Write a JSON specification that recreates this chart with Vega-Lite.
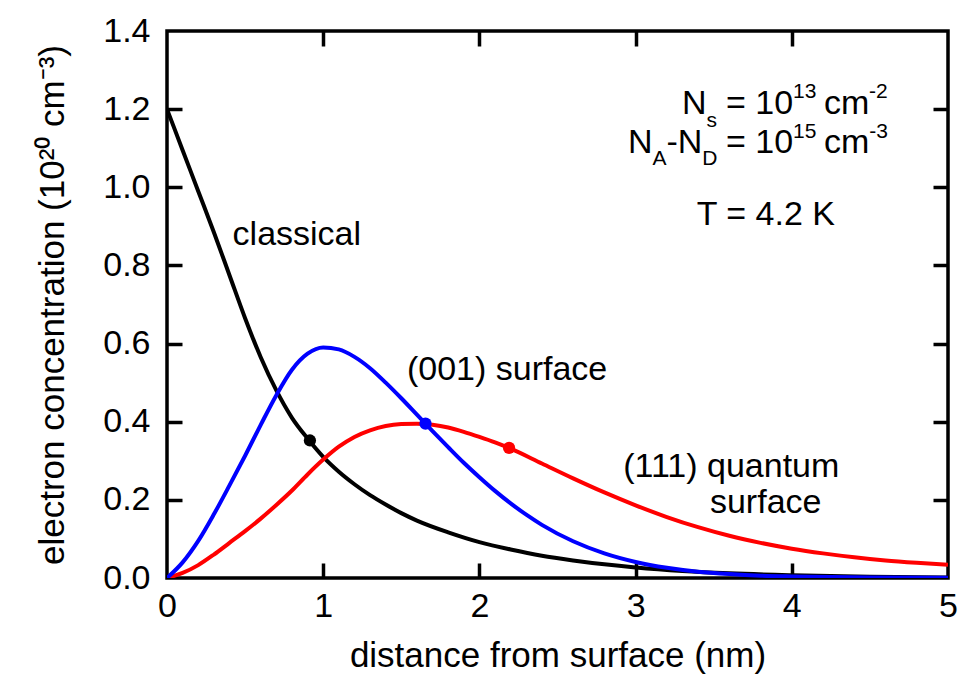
{
  "$schema": "https://vega.github.io/schema/vega-lite/v6.json",
  "width": 781,
  "height": 547,
  "autosize": {"type": "none"},
  "padding": {"left": 167, "top": 31, "right": 24, "bottom": 100},
  "background": "white",
  "config": {
    "font": "Liberation Sans",
    "view": {"stroke": "black", "strokeWidth": 3.5},
    "axis": {
      "grid": false,
      "domain": false,
      "tickColor": "black",
      "tickWidth": 3.5,
      "tickSize": 15,
      "labelColor": "black",
      "labelFont": "Liberation Sans",
      "labelFontSize": 34,
      "labelFlush": false,
      "labelOverlap": false,
      "titleColor": "black",
      "titleFont": "Liberation Sans",
      "titleFontSize": 35,
      "titleFontWeight": "normal"
    }
  },
  "datasets": {
    "curves": [
      {"series": "classical", "x": 0, "y": 1.2},
      {"series": "classical", "x": 0.1, "y": 1.095},
      {"series": "classical", "x": 0.2, "y": 0.99},
      {"series": "classical", "x": 0.3, "y": 0.885},
      {"series": "classical", "x": 0.4, "y": 0.775},
      {"series": "classical", "x": 0.5, "y": 0.665},
      {"series": "classical", "x": 0.6, "y": 0.565},
      {"series": "classical", "x": 0.7, "y": 0.48},
      {"series": "classical", "x": 0.8, "y": 0.41},
      {"series": "classical", "x": 0.9, "y": 0.357},
      {"series": "classical", "x": 1.0, "y": 0.31},
      {"series": "classical", "x": 1.1, "y": 0.272},
      {"series": "classical", "x": 1.2, "y": 0.24},
      {"series": "classical", "x": 1.3, "y": 0.212},
      {"series": "classical", "x": 1.4, "y": 0.188},
      {"series": "classical", "x": 1.5, "y": 0.166},
      {"series": "classical", "x": 1.6, "y": 0.147},
      {"series": "classical", "x": 1.8, "y": 0.117},
      {"series": "classical", "x": 2.0, "y": 0.092},
      {"series": "classical", "x": 2.2, "y": 0.073},
      {"series": "classical", "x": 2.4, "y": 0.057},
      {"series": "classical", "x": 2.6, "y": 0.045},
      {"series": "classical", "x": 2.8, "y": 0.035},
      {"series": "classical", "x": 3.0, "y": 0.027},
      {"series": "classical", "x": 3.3, "y": 0.018},
      {"series": "classical", "x": 3.6, "y": 0.012},
      {"series": "classical", "x": 4.0, "y": 0.007},
      {"series": "classical", "x": 4.5, "y": 0.003},
      {"series": "classical", "x": 5.0, "y": 0.0015},
      {"series": "(111) surface", "x": 0, "y": 0},
      {"series": "(111) surface", "x": 0.1, "y": 0.013},
      {"series": "(111) surface", "x": 0.2, "y": 0.033},
      {"series": "(111) surface", "x": 0.3, "y": 0.06},
      {"series": "(111) surface", "x": 0.4, "y": 0.09},
      {"series": "(111) surface", "x": 0.5, "y": 0.12},
      {"series": "(111) surface", "x": 0.6, "y": 0.152},
      {"series": "(111) surface", "x": 0.7, "y": 0.187},
      {"series": "(111) surface", "x": 0.8, "y": 0.224},
      {"series": "(111) surface", "x": 0.9, "y": 0.265},
      {"series": "(111) surface", "x": 1.0, "y": 0.303},
      {"series": "(111) surface", "x": 1.1, "y": 0.336},
      {"series": "(111) surface", "x": 1.2, "y": 0.361},
      {"series": "(111) surface", "x": 1.3, "y": 0.378},
      {"series": "(111) surface", "x": 1.4, "y": 0.389},
      {"series": "(111) surface", "x": 1.5, "y": 0.394},
      {"series": "(111) surface", "x": 1.6, "y": 0.395},
      {"series": "(111) surface", "x": 1.7, "y": 0.392},
      {"series": "(111) surface", "x": 1.8, "y": 0.385},
      {"series": "(111) surface", "x": 1.9, "y": 0.374},
      {"series": "(111) surface", "x": 2.0, "y": 0.361},
      {"series": "(111) surface", "x": 2.1, "y": 0.347},
      {"series": "(111) surface", "x": 2.2, "y": 0.331},
      {"series": "(111) surface", "x": 2.4, "y": 0.293},
      {"series": "(111) surface", "x": 2.6, "y": 0.255},
      {"series": "(111) surface", "x": 2.8, "y": 0.219},
      {"series": "(111) surface", "x": 3.0, "y": 0.186},
      {"series": "(111) surface", "x": 3.2, "y": 0.156},
      {"series": "(111) surface", "x": 3.4, "y": 0.13},
      {"series": "(111) surface", "x": 3.6, "y": 0.108},
      {"series": "(111) surface", "x": 3.8, "y": 0.09},
      {"series": "(111) surface", "x": 4.0, "y": 0.075},
      {"series": "(111) surface", "x": 4.2, "y": 0.063},
      {"series": "(111) surface", "x": 4.4, "y": 0.053},
      {"series": "(111) surface", "x": 4.6, "y": 0.045},
      {"series": "(111) surface", "x": 4.8, "y": 0.039},
      {"series": "(111) surface", "x": 5.0, "y": 0.034},
      {"series": "(001) surface", "x": 0, "y": 0},
      {"series": "(001) surface", "x": 0.1, "y": 0.04},
      {"series": "(001) surface", "x": 0.2, "y": 0.095},
      {"series": "(001) surface", "x": 0.3, "y": 0.163},
      {"series": "(001) surface", "x": 0.4, "y": 0.237},
      {"series": "(001) surface", "x": 0.5, "y": 0.313},
      {"series": "(001) surface", "x": 0.6, "y": 0.392},
      {"series": "(001) surface", "x": 0.7, "y": 0.468},
      {"series": "(001) surface", "x": 0.8, "y": 0.533},
      {"series": "(001) surface", "x": 0.9, "y": 0.574},
      {"series": "(001) surface", "x": 1.0, "y": 0.59},
      {"series": "(001) surface", "x": 1.1, "y": 0.585},
      {"series": "(001) surface", "x": 1.2, "y": 0.566},
      {"series": "(001) surface", "x": 1.3, "y": 0.537},
      {"series": "(001) surface", "x": 1.4, "y": 0.5},
      {"series": "(001) surface", "x": 1.5, "y": 0.46},
      {"series": "(001) surface", "x": 1.6, "y": 0.418},
      {"series": "(001) surface", "x": 1.7, "y": 0.376},
      {"series": "(001) surface", "x": 1.8, "y": 0.335},
      {"series": "(001) surface", "x": 1.9, "y": 0.295},
      {"series": "(001) surface", "x": 2.0, "y": 0.258},
      {"series": "(001) surface", "x": 2.1, "y": 0.223},
      {"series": "(001) surface", "x": 2.2, "y": 0.191},
      {"series": "(001) surface", "x": 2.3, "y": 0.162},
      {"series": "(001) surface", "x": 2.4, "y": 0.136},
      {"series": "(001) surface", "x": 2.6, "y": 0.094},
      {"series": "(001) surface", "x": 2.8, "y": 0.063},
      {"series": "(001) surface", "x": 3.0, "y": 0.041},
      {"series": "(001) surface", "x": 3.2, "y": 0.026},
      {"series": "(001) surface", "x": 3.4, "y": 0.016},
      {"series": "(001) surface", "x": 3.6, "y": 0.01},
      {"series": "(001) surface", "x": 3.8, "y": 0.006},
      {"series": "(001) surface", "x": 4.0, "y": 0.004},
      {"series": "(001) surface", "x": 4.5, "y": 0.0015},
      {"series": "(001) surface", "x": 5.0, "y": 0.0005}
    ],
    "dots": [
      {"series": "classical", "x": 0.915, "y": 0.352},
      {"series": "(001) surface", "x": 1.655, "y": 0.395},
      {"series": "(111) surface", "x": 2.19, "y": 0.333}
    ],
    "labels": [
      {"x": 0.42, "y": 0.852, "text": "classical"},
      {"x": 1.536, "y": 0.507, "text": "(001) surface"},
      {"x": 2.921, "y": 0.258, "text": "(111) quantum"},
      {"x": 3.476, "y": 0.166, "text": "surface"},
      {"x": 3.297, "y": 1.187, "text": "N"},
      {"x": 3.579, "y": 1.187, "text": "= 10"},
      {"x": 4.206, "y": 1.187, "text": "cm"},
      {"x": 2.951, "y": 1.087, "text": "N"},
      {"x": 3.198, "y": 1.087, "text": "-N"},
      {"x": 3.579, "y": 1.087, "text": "= 10"},
      {"x": 4.206, "y": 1.087, "text": "cm"},
      {"x": 3.391, "y": 0.9035, "text": "T = 4.2 K"}
    ],
    "scripts": [
      {"x": 3.454, "y": 1.155, "text": "s"},
      {"x": 4.008, "y": 1.228, "text": "13"},
      {"x": 4.494, "y": 1.229, "text": "-2"},
      {"x": 3.108, "y": 1.057, "text": "A"},
      {"x": 3.427, "y": 1.057, "text": "D"},
      {"x": 4.008, "y": 1.127, "text": "15"},
      {"x": 4.496, "y": 1.127, "text": "-3"}
    ]
  },
  "layer": [
    {
      "data": {"name": "curves"},
      "mark": {"type": "line", "strokeWidth": 4, "interpolate": "monotone", "clip": true},
      "encoding": {
        "x": {
          "field": "x", "type": "quantitative",
          "scale": {"domain": [0, 5], "nice": false, "zero": false},
          "axis": {"orient": "bottom", "values": [0, 1, 2, 3, 4, 5], "format": "d", "ticks": false, "labelPadding": 11, "title": "distance from surface (nm)", "titlePadding": 15}
        },
        "y": {
          "field": "y", "type": "quantitative",
          "scale": {"domain": [0, 1.4], "nice": false, "zero": false},
          "axis": {"orient": "left", "values": [0, 0.2, 0.4, 0.6, 0.8, 1.0, 1.2, 1.4], "format": ".1f", "ticks": false, "labelPadding": 17, "title": "electron concentration (10²⁰ cm⁻³)", "titlePadding": 32}
        },
        "color": {
          "field": "series", "type": "nominal",
          "scale": {"domain": ["classical", "(111) surface", "(001) surface"], "range": ["#000000", "#ff0000", "#0000ff"]},
          "legend": null
        }
      }
    },
    {
      "data": {"name": "dots"},
      "mark": {"type": "point", "filled": true, "opacity": 1, "size": 150},
      "encoding": {
        "x": {
          "field": "x", "type": "quantitative",
          "axis": {"orient": "top", "offset": -15, "values": [1, 2, 3, 4], "labels": false, "title": null}
        },
        "y": {
          "field": "y", "type": "quantitative",
          "axis": {"orient": "right", "offset": -15, "values": [0.2, 0.4, 0.6, 0.8, 1.0, 1.2], "labels": false, "title": null}
        },
        "color": {"field": "series", "type": "nominal", "legend": null}
      }
    },
    {
      "data": {"name": "labels"},
      "mark": {"type": "text", "fontSize": 34, "align": "left", "baseline": "alphabetic", "color": "black", "font": "Liberation Sans"},
      "encoding": {
        "x": {
          "field": "x", "type": "quantitative",
          "axis": {"orient": "bottom", "offset": -15, "values": [1, 2, 3, 4], "labels": false, "title": null}
        },
        "y": {
          "field": "y", "type": "quantitative",
          "axis": {"orient": "left", "offset": -15, "values": [0.2, 0.4, 0.6, 0.8, 1.0, 1.2], "labels": false, "title": null}
        },
        "text": {"field": "text"}
      }
    },
    {
      "data": {"name": "scripts"},
      "mark": {"type": "text", "fontSize": 21, "align": "left", "baseline": "alphabetic", "color": "black", "font": "Liberation Sans"},
      "encoding": {
        "x": {"field": "x", "type": "quantitative", "axis": null},
        "y": {"field": "y", "type": "quantitative", "axis": null},
        "text": {"field": "text"}
      }
    }
  ],
  "resolve": {"axis": {"x": "independent", "y": "independent"}}
}
